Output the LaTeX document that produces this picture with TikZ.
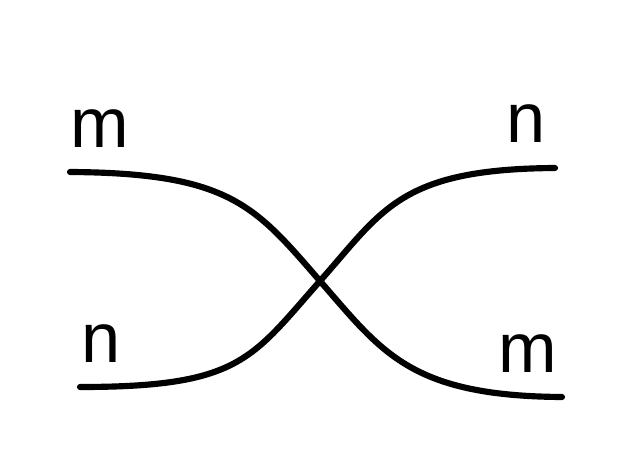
\documentclass[tikz,border=0pt]{standalone}
\usepackage{fontspec}
\setmainfont{Liberation Sans}
\tikzset{
	strand/.style={line width=3.5pt, line cap=round},
	lbl/.style={anchor=base, inner sep=0pt, font=\fontsize{40}{40}\selectfont}
}

\begin{document}
\begin{tikzpicture}
\useasboundingbox (0,0) rectangle (12.54,9.32);
% ends of the two strands and where they cross
\coordinate (mL) at (1.4,5.88);
\coordinate (mR) at (11.24,1.38);
\coordinate (nL) at (1.6,1.58);
\coordinate (nR) at (11.1,5.96);
\coordinate (cross) at (6.4,3.70);
% labels
\node [lbl] (mLlbl) at (2.0,6.36) {m};
\node [lbl] (nRlbl) at (10.52,6.48) {n};
\node [lbl] (nLlbl) at (2.02,2.08) {n};
\node [lbl] (mRlbl) at (10.55,1.88) {m};
% strands
\draw [strand] (mL) .. controls (4.6,5.86) and (5.1,5.2) .. (cross)
	.. controls (7.64,2.28) and (8.2,1.4) .. (mR);
\draw [strand] (nL) .. controls (4.8,1.58) and (5.02,2.14) .. (cross)
	.. controls (7.66,5.12) and (8.0,5.94) .. (nR);
\end{tikzpicture}
\end{document}
